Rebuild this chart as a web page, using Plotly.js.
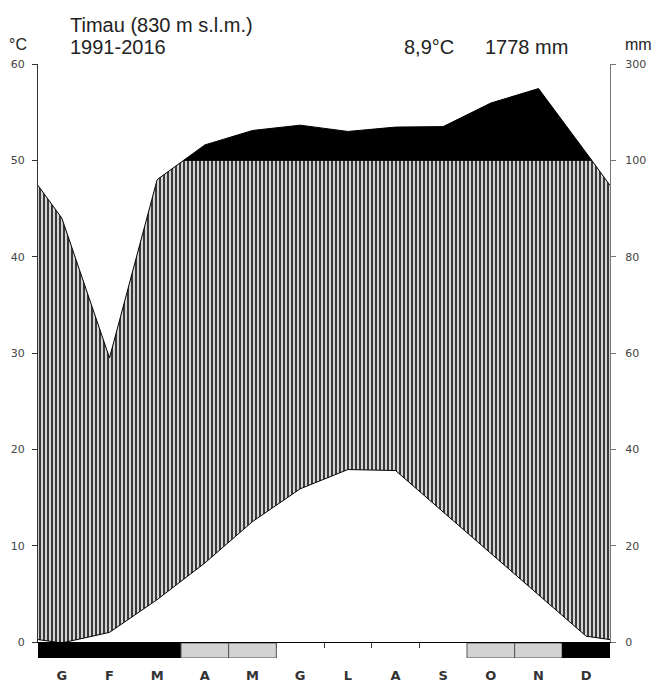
<!DOCTYPE html>
<html>
<head>
<meta charset="utf-8">
<script src="https://cdn.plot.ly/plotly-3.0.1.min.js"></script>
<style>html,body{margin:0;padding:0;background:#fff;}</style>
</head>
<body>
<div id="chart" style="width:653px;height:682px;"></div>
<script>
// ---- data ----
const months = ['G','F','M','A','M','G','L','A','S','O','N','D'];
const tempC = [-0.1, 1.0, 4.4, 8.2, 12.5, 15.9, 17.9, 17.8, 13.5, 9.2, 4.9, 0.6];
const precipMm = [88, 59, 96, 132, 162, 173, 160, 169, 170, 219, 249, 116];
const frostClass = ['sure','sure','sure','prob','prob','none','none','none','none','prob','prob','sure'];
const tempTicks = [0, 10, 20, 30, 40, 50, 60];
const precipTickText = ['0', '20', '40', '60', '80', '100', '300'];
const stationTitle = 'Timau (830 m s.l.m.)';
const period = '1991-2016';
const meanTempText = '8,9°C';
const totalPrecipText = '1778 mm';

// ---- derived series ----
function scaleP(p) { return p <= 100 ? p / 2 : 50 + (p - 100) / 20; }
const centers = months.map((m, i) => i + 0.5);
const n = months.length;
const xs = [0].concat(centers, [n]);
const tEdge = (tempC[n - 1] + tempC[0]) / 2;
const ts = [tEdge].concat(tempC, [tEdge]);
const pScaled = precipMm.map(scaleP);
const pEdge = (pScaled[n - 1] + pScaled[0]) / 2;
const ps = [pEdge].concat(pScaled, [pEdge]);

const capX = [], capY = [], blkX = [], blkY = [];
for (let i = 0; i < xs.length; i++) {
  if (i > 0 && (ps[i - 1] - 50) * (ps[i] - 50) < 0) {
    const xc = xs[i - 1] + (50 - ps[i - 1]) / (ps[i] - ps[i - 1]) * (xs[i] - xs[i - 1]);
    capX.push(xc); capY.push(50);
    blkX.push(xc); blkY.push(50);
    if (ps[i] < 50) { blkX.push(null); blkY.push(null); }
  }
  capX.push(xs[i]); capY.push(Math.min(ps[i], 50));
  if (ps[i] >= 50) { blkX.push(xs[i]); blkY.push(ps[i]); }
}

const frostColor = {sure: '#000000', prob: '#d3d3d3', none: 'rgba(0,0,0,0)'};
const frostLine = {sure: '#000000', prob: '#555555', none: 'rgba(0,0,0,0)'};

const traces = [
  {x: xs, y: ts, mode: 'lines', line: {color: '#000', width: 1}, hoverinfo: 'skip'},
  {x: capX, y: capY, mode: 'lines', line: {color: '#000', width: 1}, fill: 'tonexty',
   fillpattern: {shape: '|', size: 4, solidity: 0.5, fgcolor: '#3a3a3a', bgcolor: '#d4d4d4'},
   hoverinfo: 'skip'},
  {x: blkX, y: blkY, mode: 'lines', line: {color: '#000', width: 1}, fill: 'toself',
   fillcolor: '#000', yaxis: 'y2', hoverinfo: 'skip'},
  {type: 'bar', x: centers, y: frostClass.map(f => f === 'none' ? 0 : 1), width: 1,
   marker: {color: frostClass.map(f => frostColor[f]),
            line: {color: frostClass.map(f => frostLine[f]), width: 1}},
   xaxis: 'x2', yaxis: 'y3', hoverinfo: 'skip'}
];

const L = 38, R = 610, T = 64, B = 658;
const W = R - L, H = B - T;
const px = v => (v - L) / W;
const py = v => (B - v) / H;
const mainBottom = py(642);
const stripTop = py(643);

const txtFont = {family: 'Liberation Sans, Arial, sans-serif', size: 20, color: '#222'};
const unitFont = {family: 'Liberation Sans, Arial, sans-serif', size: 16, color: '#222'};
const tickFont = {family: 'DejaVu Sans, sans-serif', size: 11, color: '#444'};

const layout = {
  width: 653, height: 682,
  margin: {l: L, r: 653 - R, t: T, b: 682 - B, pad: 0},
  paper_bgcolor: '#fff', plot_bgcolor: 'rgba(0,0,0,0)',
  showlegend: false,
  xaxis: {domain: [0, 1], range: [0, n], anchor: 'y', showline: true, linecolor: '#000', linewidth: 1,
          tickvals: centers.map(c => c + 0.5).slice(0, n - 1), ticks: 'outside', ticklen: 5,
          tickcolor: '#333', showticklabels: false, showgrid: false, zeroline: false, fixedrange: true},
  yaxis: {domain: [mainBottom, 1], range: [0, 60], anchor: 'x', showline: true, linecolor: '#333',
          linewidth: 1, tickvals: tempTicks, ticks: 'outside', ticklen: 5, tickcolor: '#333',
          tickfont: tickFont, ticklabelstandoff: 5, showgrid: false, zeroline: false},
  yaxis2: {overlaying: 'y', side: 'right', anchor: 'x', range: [0, 60], showline: true,
           linecolor: '#777', linewidth: 1, tickvals: tempTicks, ticktext: precipTickText,
           ticks: 'outside', ticklen: 5, tickcolor: '#777', tickfont: tickFont, ticklabelstandoff: 7,
           showgrid: false, zeroline: false},
  xaxis2: {domain: [0, 1], range: [0, n], anchor: 'y3', showline: false, ticks: '',
           tickvals: centers, ticktext: months, ticklabelstandoff: 8,
           tickfont: {family: 'DejaVu Sans, sans-serif', size: 13, color: '#333', weight: 'bold'},
           showgrid: false, zeroline: false},
  yaxis3: {domain: [0, stripTop], range: [0, 1], anchor: 'x2', visible: false},
  annotations: [
    {xref: 'paper', yref: 'paper', x: px(68), y: py(25), xanchor: 'left', yanchor: 'middle',
     text: stationTitle, showarrow: false, font: txtFont},
    {xref: 'paper', yref: 'paper', x: px(68), y: py(47), xanchor: 'left', yanchor: 'middle',
     text: period, showarrow: false, font: txtFont},
    {xref: 'paper', yref: 'paper', x: px(402), y: py(47), xanchor: 'left', yanchor: 'middle',
     text: meanTempText, showarrow: false, font: txtFont},
    {xref: 'paper', yref: 'paper', x: px(483), y: py(47), xanchor: 'left', yanchor: 'middle',
     text: totalPrecipText, showarrow: false, font: txtFont},
    {xref: 'paper', yref: 'paper', x: px(7), y: py(45), xanchor: 'left', yanchor: 'middle',
     text: '°C', showarrow: false, font: unitFont},
    {xref: 'paper', yref: 'paper', x: px(623), y: py(45), xanchor: 'left', yanchor: 'middle',
     text: 'mm', showarrow: false, font: unitFont}
  ]
};

Plotly.newPlot('chart', traces, layout, {staticPlot: true, displayModeBar: false});
</script>
</body>
</html>
